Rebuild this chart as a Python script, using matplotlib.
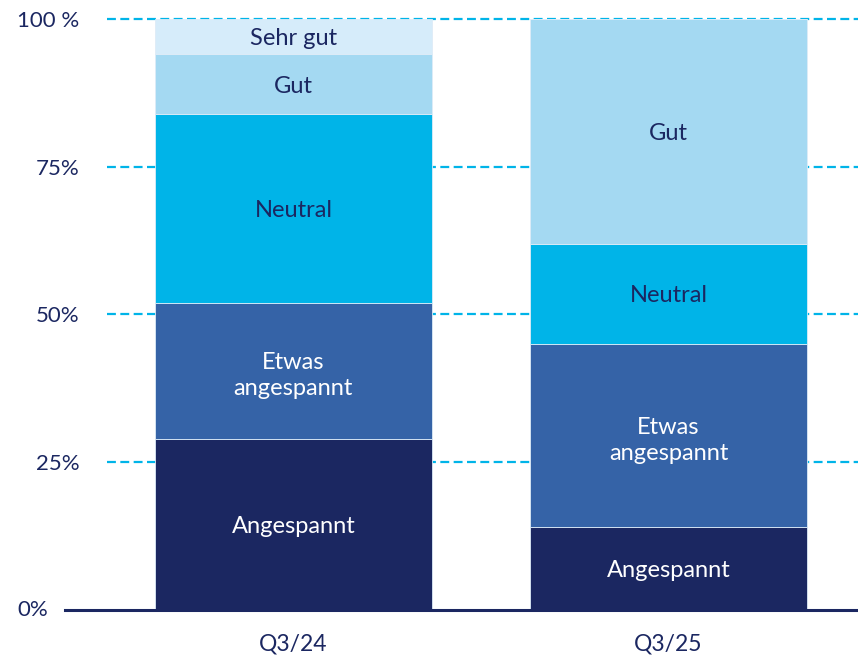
import matplotlib

matplotlib.use("Agg")
import matplotlib.pyplot as plt
import numpy as np

# ---- data ----
quarters = ["Q3/24", "Q3/25"]
categories = ["Angespannt", "Etwas\nangespannt", "Neutral", "Gut", "Sehr gut"]
share_q324 = [29, 23, 32, 10, 6]
share_q325 = [14, 31, 17, 38, 0]
y_ticks = [0, 25, 50, 75, 100]
y_labels = ["", "25%", "50%", "75%", "100 %"]

colors = ["#1B2761", "#3563A7", "#00B4E8", "#A4D9F2", "#D6ECFA"]
text_colors = ["white", "white", "#1B2761", "#1B2761", "#1B2761"]
NAVY = "#1B2761"
GRID = "#00B4E8"

plt.rcParams["font.family"] = ["Lato", "DejaVu Sans"]

fig = plt.figure(figsize=(8.58, 6.6), dpi=100)
ax = fig.add_axes([107 / 858, 50 / 660, 751 / 858, 591 / 660])

x = np.arange(len(quarters))
values = np.array([share_q324, share_q325]).T
bottom = np.zeros(len(quarters))

# gridlines behind bars
for yt in y_ticks[1:]:
    ax.axhline(yt, color=GRID, linestyle=(0, (4, 2)), linewidth=1.6,
               zorder=0, clip_on=False)

for i, cat in enumerate(categories):
    vals = values[i]
    ax.bar(x, vals, bottom=bottom, width=0.739, color=colors[i],
           edgecolor="#DDEBF7", linewidth=0.6, zorder=2)
    for j, v in enumerate(vals):
        if v > 0:
            ax.text(x[j], bottom[j] + v / 2, cat, ha="center",
                    va="center_baseline", fontsize=17,
                    color=text_colors[i], zorder=3, linespacing=1.3)
    bottom += vals

ax.set_xlim(-0.497, 1.505)
ax.set_ylim(0, 100)

# bottom axis line, extends a bit left of the gridlines
ax.axhline(0, xmin=-0.056, xmax=1, color=NAVY, linewidth=2.2,
           clip_on=False, zorder=4)

for s in ax.spines.values():
    s.set_visible(False)

ax.set_xticks(x)
ax.set_xticklabels(quarters, fontsize=16.5, color=NAVY)
ax.set_yticks(y_ticks)
ax.set_yticklabels(y_labels, fontsize=16, color=NAVY)
ax.tick_params(axis="both", length=0)
ax.tick_params(axis="x", pad=17)
ax.tick_params(axis="y", pad=20)

# the 0% label sits further left in the original
ax.text(-0.0786, 0, "0%", transform=ax.get_yaxis_transform(), ha="right",
        va="center", fontsize=16, color=NAVY, clip_on=False)

fig.savefig("out.png", dpi=100, facecolor="white")
